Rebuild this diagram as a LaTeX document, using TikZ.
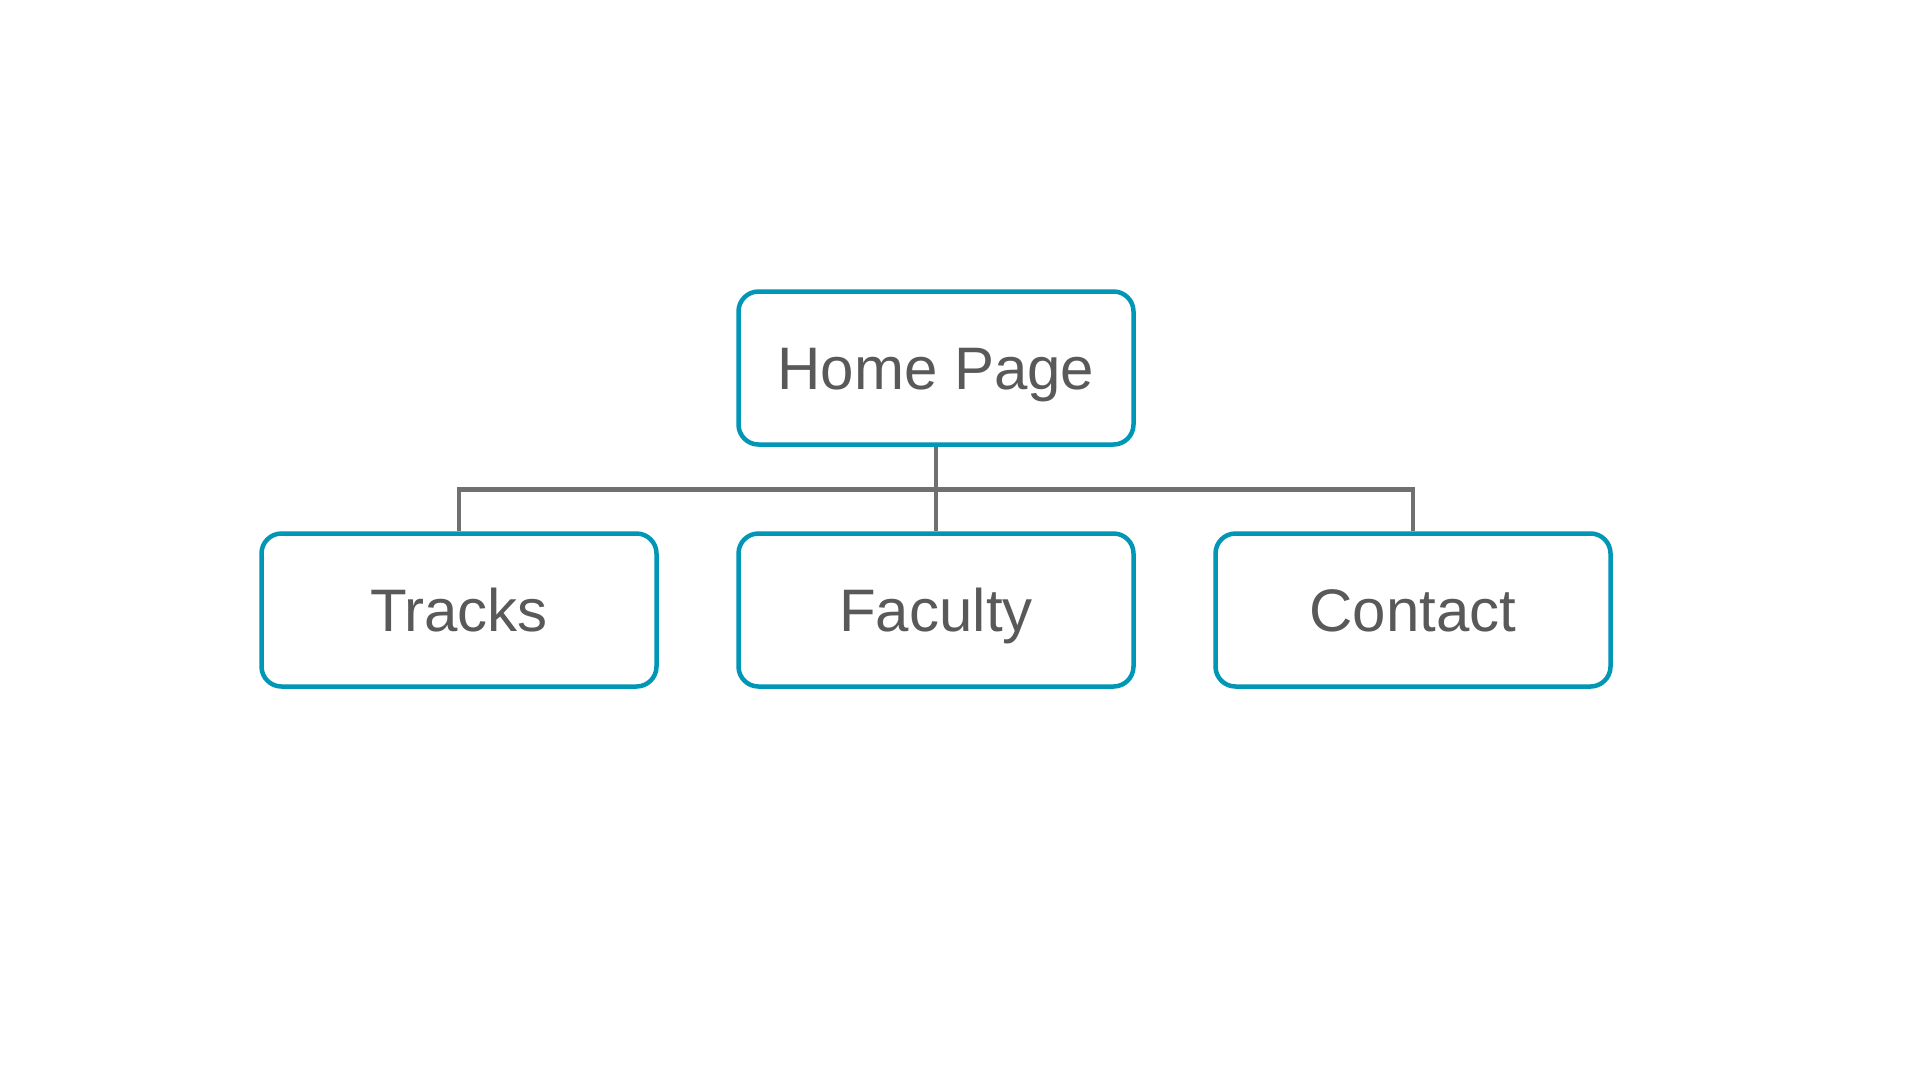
\documentclass[tikz,border=0pt]{standalone}
\usepackage{fontspec}
\setmainfont{Liberation Sans}
\definecolor{boxline}{RGB}{0,150,182}
\definecolor{txt}{RGB}{89,89,89}
\definecolor{link}{RGB}{112,112,112}
\begin{document}
\begin{tikzpicture}[x=1pt,y=-1pt,
  pagebox/.style={draw=boxline, line width=4.5pt, rounded corners=20pt, fill=white,
    minimum width=395pt, minimum height=153pt, inner sep=0pt,
    text height=43pt, text depth=0pt,
    text=txt, font=\fontsize{60}{70}\selectfont},
  link/.style={draw=link, line width=4.5pt}]
  \useasboundingbox[fill=white] (0,0) rectangle (1920,1080);
  \node[pagebox] (home) at (936,368) {Home Page};
  \node[pagebox] (tracks) at (459,610) {Tracks};
  \node[pagebox] (faculty) at (936,610) {Faculty};
  \node[pagebox] (contact) at (1413,610) {Contact};
  \coordinate (bus) at (936,489.5);
  \draw[link] (home.south) -- (faculty.north);
  \draw[link] (tracks.north) |- (bus) -| (contact.north);
\end{tikzpicture}
\end{document}
